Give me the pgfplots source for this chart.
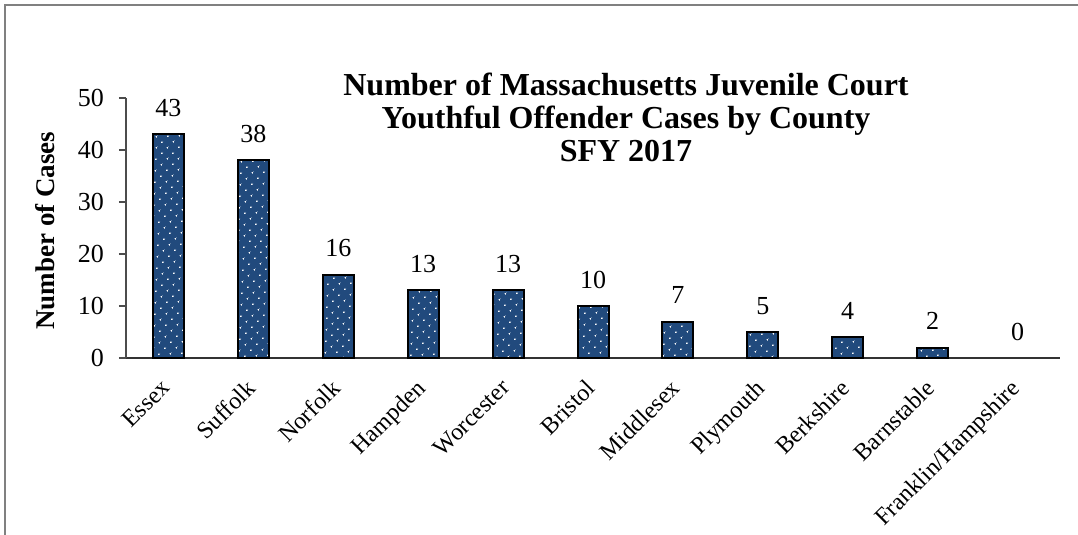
\documentclass[border=0pt]{standalone}
\usepackage{pgfplots}
\pgfplotsset{compat=1.18}
\usetikzlibrary{patterns.meta}
\usepackage{fontspec}
\setmainfont{Liberation Serif}
\definecolor{barblue}{RGB}{33,74,125}
\definecolor{framegray}{RGB}{128,128,128}
\begin{document}
\begin{tikzpicture}
\path[use as bounding box] (0,0) rectangle (539pt,267.5pt);
\draw[framegray, line width=1pt] (2.5pt,0) -- (2.5pt,265pt) -- (539pt,265pt);
\begin{axis}[
  scale only axis,
  width=467pt, height=130pt,
  at={(63pt,88.5pt)}, anchor=south west,
  ymin=0, ymax=50, ytick={0,10,20,30,40,50},
  xmin=-0.5, xmax=10.5,
  xtick={0,...,10},
  xticklabels={Essex,Suffolk,Norfolk,Hampden,Worcester,Bristol,Middlesex,Plymouth,Berkshire,Barnstable,Franklin/Hampshire},
  x tick style={draw=none},
  extra x ticks={-0.5,0.5,...,10.5},
  extra x tick labels={},
  extra x tick style={tick style={draw=black!80, line width=0.6pt}, major tick length=4pt},
  axis x line=bottom, axis y line=left,
  x axis line style={-, draw=black!80, line width=0.6pt},
  y axis line style={-, draw=black!70, line width=0.6pt},
  y tick style={draw=black!70, line width=0.6pt},
  tick align=outside,
  major tick length=3.5pt,
  /pgf/number format/assume math mode=true,
  yticklabel style={xshift=-4pt, font=\fontsize{13}{15}\selectfont},
  xticklabel style={font=\fontsize{12}{14}\selectfont, rotate=45, anchor=north east, inner sep=1pt, xshift=-6.4pt, yshift=-0.5pt},
  ylabel={Number of Cases},
  ylabel style={at={(axis description cs:-0.0867,0.49)}, anchor=center, font=\bfseries\fontsize{13.5}{15}\selectfont},
  ybar, bar width=15.5pt, bar shift=0pt,
  nodes near coords,
  every node near coord/.append style={font=\fontsize{13}{15}\selectfont, yshift=5pt},
  clip=false,
]
\addplot[fill=barblue, draw=black, line width=1pt,
  postaction={pattern={Dots[distance=4pt,radius=0.5pt,angle=45]}, pattern color=white}]
  coordinates {(0,43) (1,38) (2,16) (3,13) (4,13) (5,10) (6,7) (7,5) (8,4) (9,2)};
\addplot[draw=none, fill=none] coordinates {(10,0)};
\end{axis}
\node[align=center, font=\bfseries\fontsize{16}{16.5}\selectfont] at (313pt,209pt)
  {Number of Massachusetts Juvenile Court\\Youthful Offender Cases by County\\SFY 2017};
\end{tikzpicture}
\end{document}
